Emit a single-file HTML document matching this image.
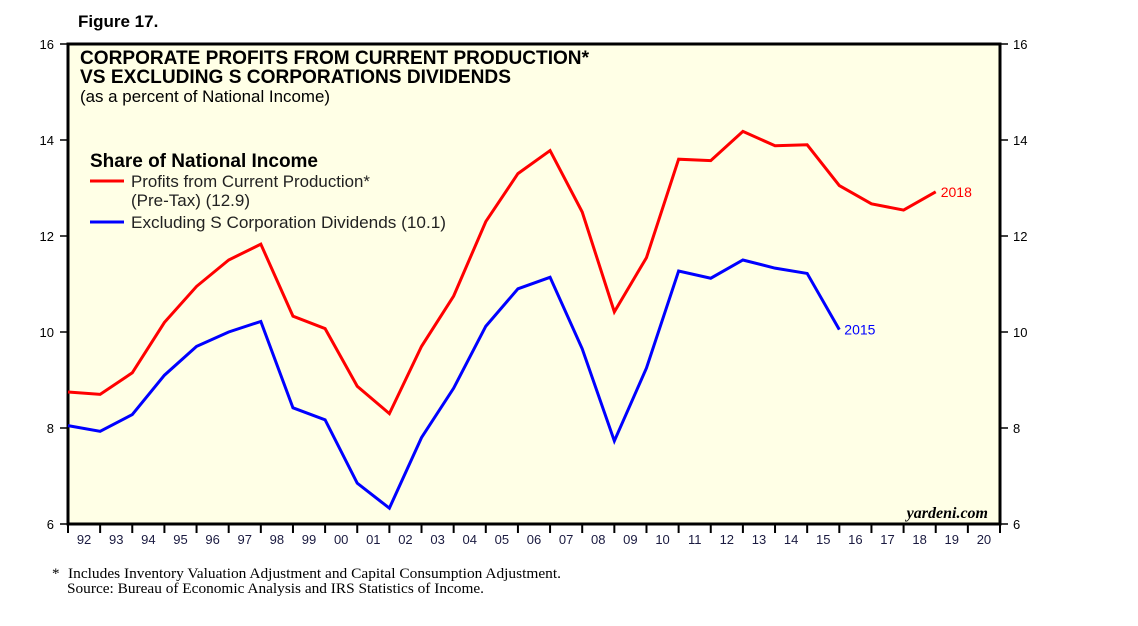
<!DOCTYPE html>
<html><head><meta charset="utf-8"><style>
body{margin:0;background:#fff;width:1138px;height:621px;overflow:hidden;font-family:"Liberation Sans",sans-serif}
svg text{font-family:"Liberation Sans",sans-serif}
</style></head><body>
<svg id="c" width="1138" height="621" xmlns="http://www.w3.org/2000/svg">
<text x="78" y="27" font-size="17" font-weight="bold">Figure 17.</text>
<rect x="68" y="44" width="932" height="480" fill="#ffffe6" stroke="#000" stroke-width="3"/>
<g id="ax"></g>
<text x="80" y="64" font-size="19" font-weight="bold" textLength="509" lengthAdjust="spacingAndGlyphs">CORPORATE PROFITS FROM CURRENT PRODUCTION*</text>
<text x="80" y="83" font-size="19" font-weight="bold" textLength="431" lengthAdjust="spacingAndGlyphs">VS EXCLUDING S CORPORATIONS DIVIDENDS</text>
<text x="80" y="102" font-size="17" textLength="250" lengthAdjust="spacingAndGlyphs">(as a percent of National Income)</text>
<g>
<text x="90" y="167" font-size="19" font-weight="bold" textLength="228" lengthAdjust="spacingAndGlyphs">Share of National Income</text>
<line x1="90" y1="181" x2="124" y2="181" stroke="#f00" stroke-width="3"/>
<text x="131" y="187" font-size="17" fill="#222" textLength="239" lengthAdjust="spacingAndGlyphs">Profits from Current Production*</text>
<text x="131" y="206" font-size="17" fill="#222">(Pre-Tax) (12.9)</text>
<line x1="90" y1="222" x2="124" y2="222" stroke="#00f" stroke-width="3"/>
<text x="131" y="228" font-size="17" fill="#222" textLength="315" lengthAdjust="spacingAndGlyphs">Excluding S Corporation Dividends (10.1)</text>
</g>
<text x="988" y="518" font-size="16" font-style="italic" font-weight="bold" text-anchor="end" style="font-family:'Liberation Serif',serif">yardeni.com</text>
<g id="series"></g>
<text x="52" y="578" font-size="15" style="font-family:'Liberation Serif',serif">*</text>
<text x="68" y="578" font-size="15" textLength="493" lengthAdjust="spacingAndGlyphs" style="font-family:'Liberation Serif',serif">Includes Inventory Valuation Adjustment and Capital Consumption Adjustment.</text>
<text x="67" y="593" font-size="15" textLength="417" lengthAdjust="spacingAndGlyphs" style="font-family:'Liberation Serif',serif">Source: Bureau of Economic Analysis and IRS Statistics of Income.</text>
</svg>
<script>
const yearLabels=["92","93","94","95","96","97","98","99","00","01","02","03","04","05","06","07","08","09","10","11","12","13","14","15","16","17","18","19","20"];
const yTicks=[6,8,10,12,14,16];
const profits=[8.75,8.7,9.15,10.2,10.95,11.5,11.83,10.33,10.07,8.87,8.3,9.7,10.75,12.3,13.3,13.78,12.5,10.42,11.55,13.6,13.57,14.18,13.88,13.9,13.05,12.67,12.54,12.92];
const exclS=[8.05,7.93,8.28,9.1,9.7,10.0,10.22,8.42,8.17,6.85,6.33,7.8,8.83,10.12,10.9,11.14,9.65,7.73,9.25,11.27,11.12,11.5,11.33,11.22,10.05];
const L=68,R=1000,T=44,B=524,step=(R-L)/yearLabels.length;
const xs=i=>L+i*step, ys=v=>B-(v-6)/10*(B-T);
const NS="http://www.w3.org/2000/svg";
const ax=document.getElementById('ax'),se=document.getElementById('series');
function mk(tag,a,p){const e=document.createElementNS(NS,tag);for(const k in a)e.setAttribute(k,a[k]);p.appendChild(e);return e;}
yTicks.forEach(v=>{
 let l=mk('line',{x1:L-8,x2:L,y1:ys(v),y2:ys(v),stroke:'#000','stroke-width':1.5},ax);
 
 
 let r=mk('line',{x1:R,x2:R+8,y1:ys(v),y2:ys(v),stroke:'#000','stroke-width':1.5},ax);
 
 
 let t=mk('text',{x:L-14,y:ys(v)+5,'font-size':13,'text-anchor':'end'},ax);t.textContent=v;
 
 
 let t2=mk('text',{x:R+13,y:ys(v)+5,'font-size':13},ax);t2.textContent=v;
 
 
});
for(let i=0;i<=yearLabels.length;i++){
 let l=mk('line',{x1:xs(i),x2:xs(i),y1:B,y2:B+9,stroke:'#000','stroke-width':2},ax);
 
 
}
yearLabels.forEach((y,i)=>{
 let t=mk('text',{x:xs(i)+step/2,y:B+20,'font-size':13,'text-anchor':'middle',fill:'#1a1a40'},ax);t.textContent=y;
 
 
});
function line(d,c,name){
 let p=mk('polyline',{points:d.map((v,i)=>xs(i)+','+ys(v)).join(' '),fill:'none',stroke:c,'stroke-width':3,'stroke-linejoin':'miter'},se);
 
 
}
line(profits,'#f00','profits-line');
line(exclS,'#00f','excl-s-corp-line');
let a=mk('text',{x:xs(profits.length-1)+5,y:ys(profits[profits.length-1])+5,'font-size':14,fill:'#f00'},se);a.textContent='2018';


let b=mk('text',{x:xs(exclS.length-1)+5,y:ys(exclS[exclS.length-1])+5,'font-size':14,fill:'#00f'},se);b.textContent='2015';


</script>
</body></html>
